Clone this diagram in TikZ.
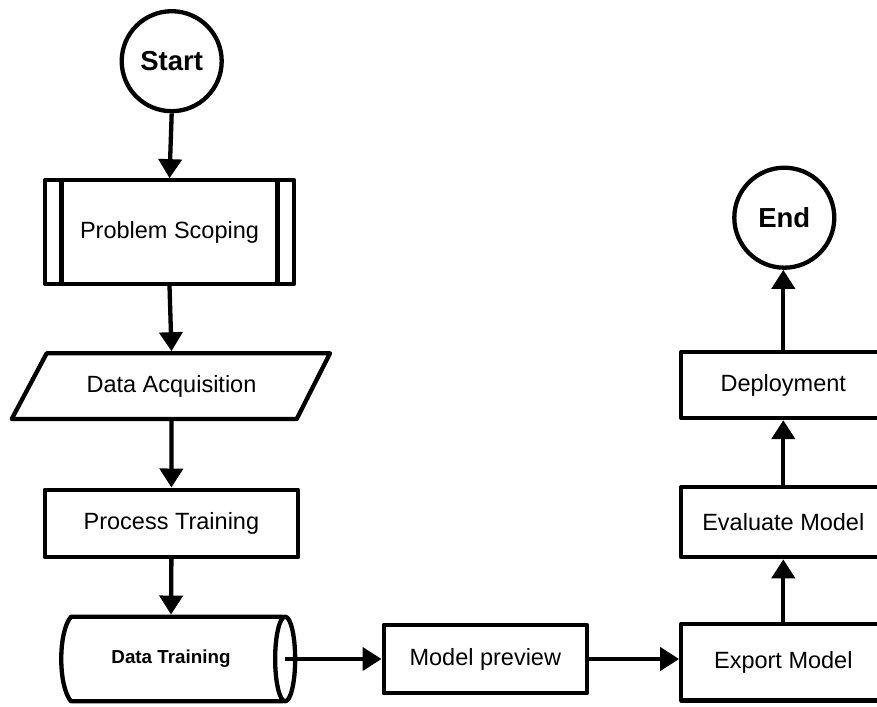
\documentclass[tikz,border=0pt]{standalone}
\usepackage{fontspec}
\setmainfont{Liberation Sans}
\usetikzlibrary{arrows.meta,calc}
\begin{document}
\begin{tikzpicture}[x=1pt,y=1pt,
  line width=4.3pt, line join=round,
  box/.style={draw, rectangle, inner sep=0pt, font=\fontsize{23.5}{28}\selectfont},
  plain/.style={rectangle, inner sep=0pt, font=\fontsize{23.5}{28}\selectfont},
  term/.style={draw, circle, inner sep=0pt, minimum size=100pt, font=\bfseries\fontsize{27.5}{32}\selectfont},
  arr/.style={-{Triangle[length=19pt,width=23pt]}},
]
\useasboundingbox (0,0) rectangle (877,-706);
\clip (0,0) rectangle (877,-706);

% nodes
\node[term] (start) at (171.7,-61.2) {Start};
\node[box, minimum width=249.6pt, minimum height=103.4pt] (ps) at (169.5,-232) {Problem Scoping};
\draw ([xshift=19pt]ps.north west) -- ([xshift=19pt]ps.south west);
\draw ([xshift=-19pt]ps.north east) -- ([xshift=-19pt]ps.south east);

\node[plain, minimum width=250pt, minimum height=65.7pt] (da) at (171.5,-386.2) {Data Acquisition};
\draw (46.7,-353.3) -- (330,-353.3) -- (296.7,-419) -- (11.7,-419) -- cycle;

\node[box, minimum width=253.3pt, minimum height=67.3pt] (pt) at (171.4,-523.3) {Process Training};

\node[rectangle, inner sep=0pt, minimum width=224pt, minimum height=84.6pt,
      font=\bfseries\fontsize{18.8}{22}\selectfont] (dt) at (171,-659) {Data Training};
\draw (283,-616.7) -- (71,-616.7) .. controls (58,-632) and (58,-686) .. (71,-701.3) -- (283,-701.3);
\draw (dt.east) ellipse [x radius=10pt, y radius=42.3pt];

\node[box, minimum width=203.3pt, minimum height=68.4pt] (mp) at (485.3,-659) {Model preview};
\node[box, minimum width=204pt, minimum height=76.7pt] (em) at (783.3,-662) {Export Model};
\node[box, minimum width=204pt, minimum height=70pt] (ev) at (783.3,-522.2) {Evaluate Model};
\node[box, minimum width=204pt, minimum height=66pt] (dep) at (783.3,-385) {Deployment};
\node[term] (end) at (784.3,-217.7) {End};

% connectors
\draw[arr] (start.south) -- (ps.north);
\draw[arr] (ps.south) -- (da.north);
\draw[arr] (da.south) -- (pt.north);
\draw[arr] (pt.south) -- (dt.north);
\draw[arr] (dt.east) -- (dt.east -| mp.west);
\draw[arr] (mp.east) -- (mp.east -| em.west);
\draw[arr] (em.north) -- (ev.south);
\draw[arr] (ev.north) -- (dep.south);
\draw[arr] (dep.north) -- (dep.north |- end.south);
\end{tikzpicture}
\end{document}
